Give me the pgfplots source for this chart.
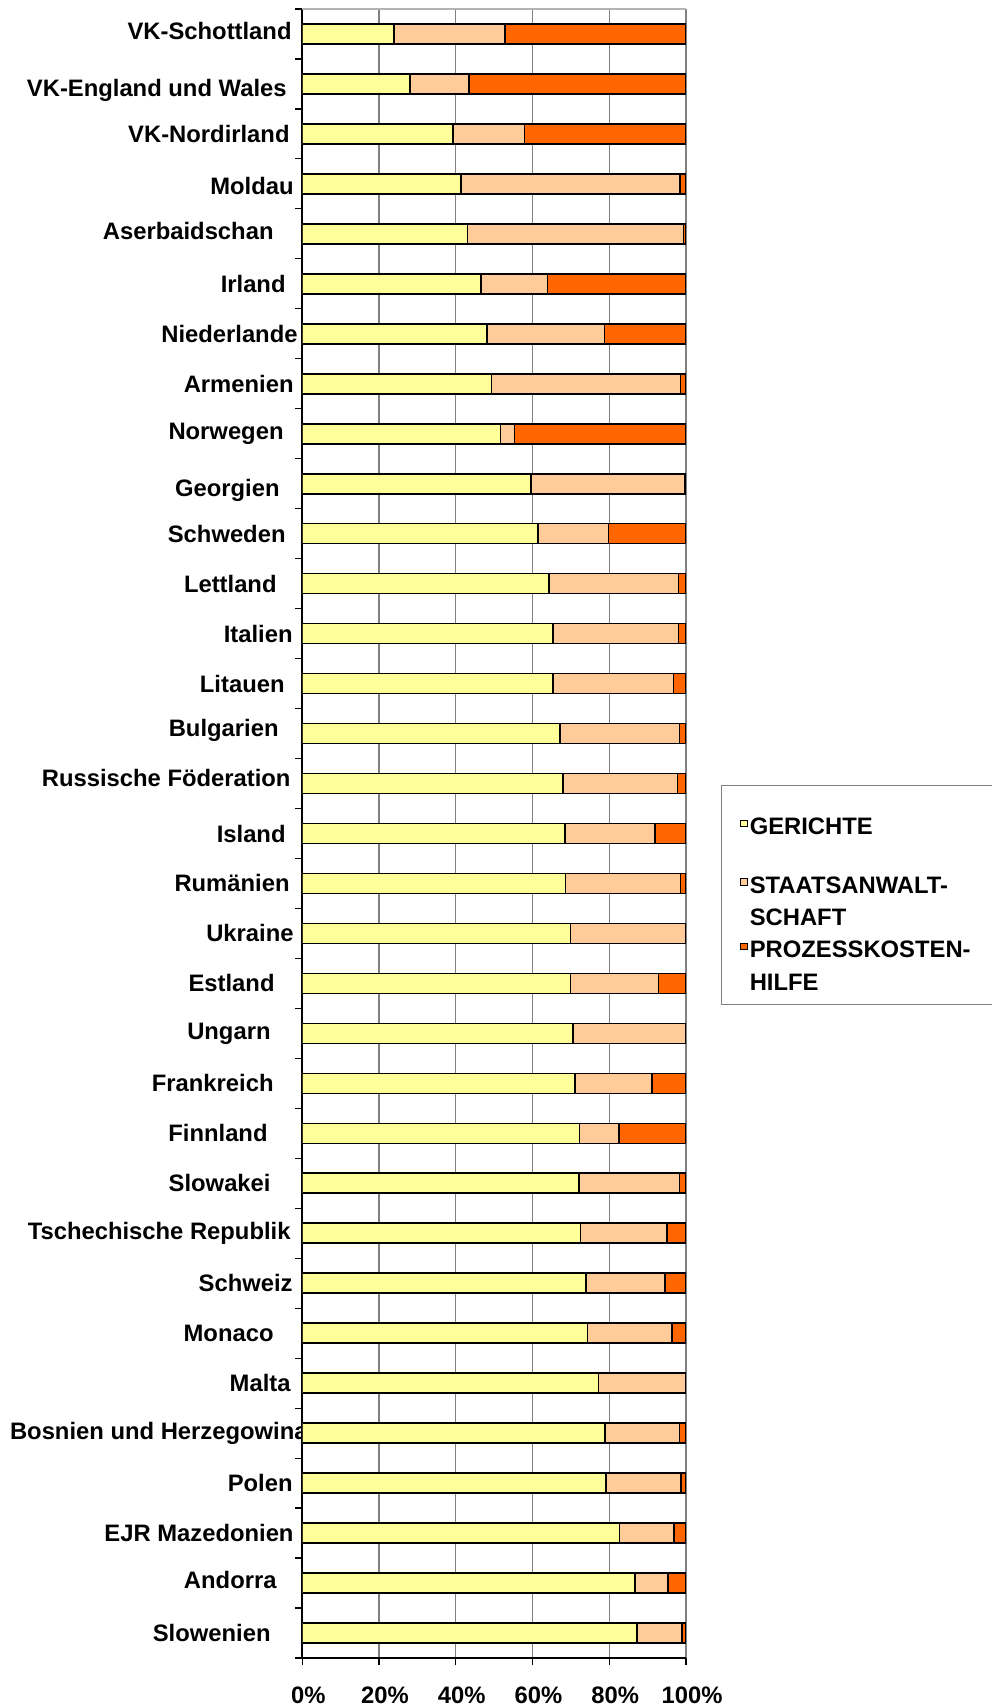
\documentclass[border=0pt]{standalone}
\usepackage{fontspec}
\setmainfont{Liberation Sans}
\usepackage{pgfplots}
\pgfplotsset{compat=1.18}
\definecolor{gerichte}{HTML}{FFFF99}
\definecolor{staats}{HTML}{FFCC99}
\definecolor{pkh}{HTML}{FF6600}
\definecolor{gridgray}{HTML}{808080}
\newcommand{\lf}{\fontsize{11.9}{14}\selectfont\bfseries}
\newcommand{\ls}{\rule[-2.5pt]{0pt}{11pt}}
\newcommand{\rb}[2]{\raisebox{#1}[\height][\depth]{#2}}
\newcommand{\lsq}[1]{\raisebox{4.4pt}{\fboxsep=0pt\fboxrule=0.55pt\fcolorbox{black}{#1}{\rule{0pt}{2.7pt}\rule{2.7pt}{0pt}}}\hspace{1pt}}
\newcommand{\lind}{\hspace*{4.8pt}}
\begin{document}
\lf
\begin{tikzpicture}
\useasboundingbox (-151.15pt,-25pt) rectangle (344.35pt,829pt);
\begin{axis}[
  at={(0pt,0pt)}, anchor=south west,
  scale only axis, width=191.85pt, height=824.5pt,
  xbar stacked, bar width=10pt,
  xmin=0, xmax=100, ymin=-0.5, ymax=32.5,
  axis x line*=bottom, axis y line*=left,
  axis line style={black, line width=0.8pt},
  xtick={0,20,40,60,80,100},
  xticklabel={\pgfmathprintnumber{\tick}\%},
  /pgf/number format/assume math mode=true,
  tick align=outside,
  major tick length=3.5pt,
  tick style={black, line width=0.6pt},
  xmajorgrids, grid style={gridgray, line width=0.6pt},
  ytick={-0.5,0.5,...,32.5},
  yticklabels={},
  extra y ticks={0,1,...,32},
  extra y tick labels={
    Slowenien\hspace*{8.2pt},
    \rb{1.5pt}{Andorra}\hspace*{5.2pt},
    EJR Mazedonien\hspace*{-3.3pt},
    Polen\hspace*{-2.8pt},
    Bosnien und Herzegowina\hspace*{-10.3pt},
    Malta\hspace*{-1.8pt},
    Monaco\hspace*{6.7pt},
    Schweiz\hspace*{-2.8pt},
    Tschechische Republik\hspace*{-1.8pt},
    Slowakei\hspace*{8.2pt},
    Finnland\hspace*{9.7pt},
    Frankreich\hspace*{6.7pt},
    Ungarn\hspace*{8.2pt},
    Estland\hspace*{6.2pt},
    Ukraine\hspace*{-3.3pt},
    Rumänien\hspace*{-1.3pt},
    Island\hspace*{0.7pt},
    \rb{2.7pt}{Russische Föderation}\hspace*{-1.8pt},
    \rb{1.5pt}{Bulgarien}\hspace*{4.2pt},
    Litauen\hspace*{1.2pt},
    Italien\hspace*{-2.8pt},
    Lettland\hspace*{5.2pt},
    Schweden\hspace*{0.7pt},
    \rb{-3.3pt}{Georgien}\hspace*{3.7pt},
    \rb{0pt}{Norwegen}\hspace*{1.7pt},
    Armenien\hspace*{-3.3pt},
    Niederlande\hspace*{-5.3pt},
    Irland\hspace*{0.7pt},
    \rb{1.6pt}{Aserbaidschan}\hspace*{6.7pt},
    \rb{-1pt}{Moldau}\hspace*{-3.3pt},
    VK-Nordirland\hspace*{-1.3pt},
    \rb{-3.3pt}{VK-England und Wales}\hspace*{0.2pt},
    \rb{1.6pt}{VK-Schottland}\hspace*{-2.3pt}},
  extra y tick style={tick style={draw=none}},
  tick label style={font=\lf},
  xticklabel style={yshift=-7pt, xshift=3pt},
  every axis plot/.append style={draw=black, line width=0.8pt},
  legend cell align=left,
  legend style={at={(rel axis cs:1.0912,0.5294)}, anchor=north west,
    draw=gridgray, line width=0.6pt, fill=white,
    inner xsep=8.3pt, inner ysep=5.4pt, row sep=5.8pt,
    cells={anchor=base west},
    nodes={anchor=base west, inner xsep=1pt, inner ysep=0pt,
      text width=118pt, align=left, font=\lf}},
]
\addplot[fill=gerichte, forget plot] coordinates {
(87.2,0) (86.7,1) (82.7,2) (79.1,3) (78.9,4) (77.2,5) (74.3,6) (73.9,7)
(72.5,8) (72.1,9) (72.2,10) (71.1,11) (70.6,12) (69.9,13) (69.9,14) (68.6,15)
(68.5,16) (67.9,17) (67.2,18) (65.4,19) (65.4,20) (64.3,21) (61.5,22) (59.6,23)
(51.7,24) (49.3,25) (48.2,26) (46.6,27) (43.1,28) (41.4,29) (39.3,30) (28.1,31) (23.9,32)};
\addplot[fill=staats, forget plot] coordinates {
(11.7,0) (8.6,1) (14.1,2) (19.6,3) (19.4,4) (22.8,5) (22.0,6) (20.7,7)
(22.5,8) (26.2,9) (10.3,10) (20.1,11) (29.4,12) (22.9,13) (30.1,14) (30.0,15)
(23.4,16) (29.9,17) (31.1,18) (31.3,19) (32.6,20) (33.7,21) (18.3,22) (40.1,23)
(3.6,24) (49.3,25) (30.6,26) (17.3,27) (56.2,28) (57.0,29) (18.6,30) (15.3,31) (29.0,32)};
\addplot[fill=pkh, forget plot] coordinates {
(1.1,0) (4.7,1) (3.2,2) (1.3,3) (1.7,4) (0,5) (3.7,6) (5.4,7)
(5.0,8) (1.7,9) (17.5,10) (8.8,11) (0,12) (7.2,13) (0,14) (1.4,15)
(8.1,16) (2.2,17) (1.7,18) (3.3,19) (2.0,20) (2.0,21) (20.2,22) (0.3,23)
(44.7,24) (1.4,25) (21.2,26) (36.1,27) (0.7,28) (1.6,29) (42.1,30) (56.6,31) (47.1,32)};
\draw[gridgray!60, line width=0.6pt] (rel axis cs:0,1) -- (rel axis cs:1,1);
\addlegendimage{empty legend}
\addlegendentry{\rule{0pt}{3.2pt}}
\addlegendimage{empty legend}
\addlegendentry{\ls\lsq{gerichte}GERICHTE}
\addlegendimage{empty legend}
\addlegendentry{\rule[-2pt]{0pt}{7.6pt}}
\addlegendimage{empty legend}
\addlegendentry{\ls\lsq{staats}STAATSANWALT-}
\addlegendimage{empty legend}
\addlegendentry{\ls\lind SCHAFT}
\addlegendimage{empty legend}
\addlegendentry{\ls\lsq{pkh}PROZESSKOSTEN-}
\addlegendimage{empty legend}
\addlegendentry{\ls\lind HILFE}
\end{axis}
\end{tikzpicture}
\end{document}
